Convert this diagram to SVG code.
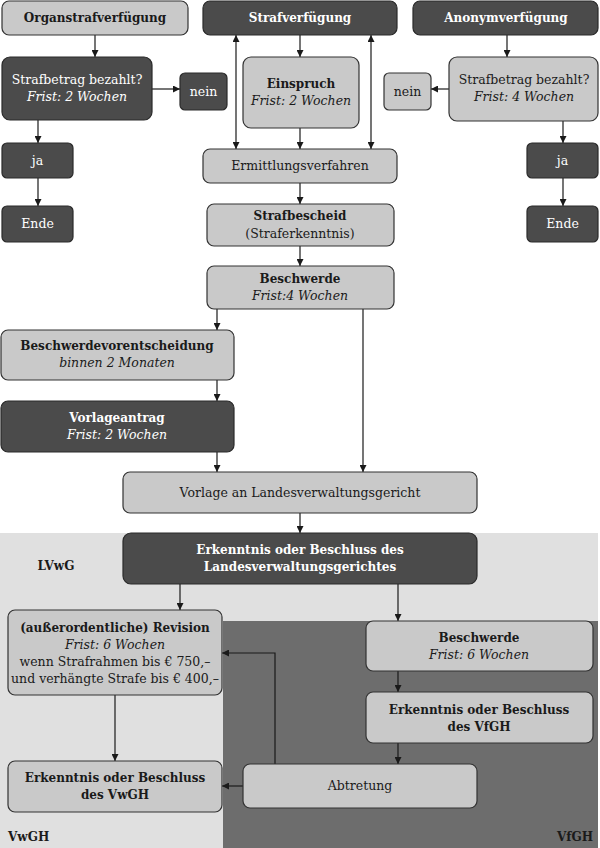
<svg xmlns="http://www.w3.org/2000/svg" width="600" height="848" viewBox="0 0 600 848">
<defs>
<marker id="ah" viewBox="0 0 10 10" refX="10" refY="5" markerWidth="7" markerHeight="7" markerUnits="userSpaceOnUse" orient="auto-start-reverse"><path d="M0,0 L10,5 L0,10 z" fill="#1a1a1a"/></marker>
<style>
text{font-family:"DejaVu Serif","Liberation Serif",serif;font-size:12.5px;text-anchor:middle}
.b{font-weight:bold;font-size:12px}
.i{font-style:italic}
.lt rect{fill:#c9c9c9;stroke:#333;stroke-width:1.2}
.dk rect{fill:#4b4b4b;stroke:#2a2a2a;stroke-width:1.2}
.lt text{fill:#1a1a1a}
.dk text{fill:#ffffff}
.c line,.c polyline{stroke:#1a1a1a;stroke-width:1.2;fill:none;marker-end:url(#ah)}
.zl{font-weight:bold;fill:#1a1a1a;font-size:12px}
</style>
</defs>
<rect x="0" y="533" width="598" height="315" fill="#e0e0e0"/>
<rect x="223" y="621" width="375" height="227" fill="#6d6d6d"/>
<text class="zl" x="56" y="570">LVwG</text>
<text class="zl" x="8" y="841" style="text-anchor:start">VwGH</text>
<text class="zl" x="593" y="841" style="text-anchor:end">VfGH</text>

<g class="c">
<line x1="95" y1="35" x2="95" y2="57"/>
<line x1="152" y1="89" x2="180" y2="89"/>
<line x1="38" y1="120" x2="38" y2="143"/>
<line x1="38" y1="178" x2="38" y2="206"/>
<line x1="236" y1="35" x2="236" y2="149" style="marker-start:url(#ah)"/>
<line x1="371" y1="35" x2="371" y2="149" style="marker-start:url(#ah)"/>
<line x1="300" y1="35" x2="300" y2="57"/>
<line x1="300" y1="128" x2="300" y2="149"/>
<line x1="300" y1="183" x2="300" y2="204"/>
<line x1="300" y1="246" x2="300" y2="266"/>
<line x1="507" y1="35" x2="507" y2="57"/>
<line x1="449" y1="89" x2="431" y2="89"/>
<line x1="563" y1="121" x2="563" y2="143"/>
<line x1="563" y1="178" x2="563" y2="206"/>
<line x1="217" y1="309" x2="217" y2="330"/>
<line x1="217" y1="380" x2="217" y2="401"/>
<line x1="217" y1="452" x2="217" y2="472"/>
<line x1="363" y1="309" x2="363" y2="472"/>
<line x1="300" y1="513" x2="300" y2="533"/>
<line x1="180" y1="584" x2="180" y2="610"/>
<line x1="398" y1="584" x2="398" y2="621"/>
<line x1="398" y1="671" x2="398" y2="692"/>
<line x1="398" y1="743" x2="398" y2="764"/>
<line x1="115" y1="695" x2="115" y2="761"/>
<line x1="243" y1="786" x2="222" y2="786"/>
<polyline points="275,765 275,653 222,653"/>
</g>

<g id="organstrafverfuegung" class="lt"><rect x="2" y="1" width="186" height="34" rx="7"/><text class="b" x="95" y="22">Organstrafverfügung</text></g>
<g id="strafverfuegung" class="dk"><rect x="203" y="1" width="194" height="34" rx="7"/><text class="b" x="300" y="22">Strafverfügung</text></g>
<g id="anonymverfuegung" class="dk"><rect x="413" y="1" width="185" height="34" rx="7"/><text class="b" x="506" y="22">Anonymverfügung</text></g>

<g id="bezahlt-links" class="dk"><rect x="2" y="57" width="150" height="63" rx="8"/><text x="77" y="84">Strafbetrag bezahlt?</text><text class="i" x="77" y="101">Frist: 2 Wochen</text></g>
<g id="nein-links" class="dk"><rect x="180" y="73" width="47" height="37" rx="5"/><text x="203.500" y="96">nein</text></g>
<g id="ja-links" class="dk"><rect x="2" y="143" width="71" height="35" rx="5"/><text x="37.500" y="165">ja</text></g>
<g id="ende-links" class="dk"><rect x="2" y="206" width="71" height="36" rx="5"/><text x="37.500" y="228">Ende</text></g>

<g id="einspruch" class="lt"><rect x="243" y="57" width="116" height="71" rx="8"/><text class="b" x="301" y="88">Einspruch</text><text class="i" x="301" y="105">Frist: 2 Wochen</text></g>
<g id="ermittlungsverfahren" class="lt"><rect x="203" y="149" width="194" height="34" rx="7"/><text x="300" y="170">Ermittlungsverfahren</text></g>
<g id="strafbescheid" class="lt"><rect x="207" y="204" width="187" height="42" rx="7"/><text class="b" x="300" y="220">Strafbescheid</text><text x="300" y="238">(Straferkenntnis)</text></g>

<g id="nein-rechts" class="lt"><rect x="384" y="73" width="47" height="37" rx="5"/><text x="407.500" y="96">nein</text></g>
<g id="bezahlt-rechts" class="lt"><rect x="449" y="57" width="149" height="64" rx="8"/><text x="524" y="84">Strafbetrag bezahlt?</text><text class="i" x="524" y="101">Frist: 4 Wochen</text></g>
<g id="ja-rechts" class="dk"><rect x="527" y="143" width="71" height="35" rx="5"/><text x="562.500" y="165">ja</text></g>
<g id="ende-rechts" class="dk"><rect x="527" y="206" width="71" height="36" rx="5"/><text x="562.500" y="228">Ende</text></g>

<g id="beschwerde" class="lt"><rect x="207" y="266" width="187" height="43" rx="7"/><text class="b" x="300" y="283">Beschwerde</text><text class="i" x="300" y="300">Frist:4 Wochen</text></g>
<g id="beschwerdevorentscheidung" class="lt"><rect x="1" y="330" width="233" height="50" rx="7"/><text class="b" x="117" y="350">Beschwerdevorentscheidung</text><text class="i" x="117" y="367">binnen 2 Monaten</text></g>
<g id="vorlageantrag" class="dk"><rect x="1" y="401" width="233" height="51" rx="7"/><text class="b" x="117" y="422">Vorlageantrag</text><text class="i" x="117" y="439">Frist: 2 Wochen</text></g>
<g id="vorlage" class="lt"><rect x="123" y="472" width="354" height="41" rx="7"/><text x="300" y="497">Vorlage an Landesverwaltungsgericht</text></g>
<g id="erkenntnis-lvwg" class="dk"><rect x="123" y="533" width="354" height="51" rx="8"/><text class="b" x="300" y="554">Erkenntnis oder Beschluss des</text><text class="b" x="300" y="571">Landesverwaltungsgerichtes</text></g>

<g id="revision" class="lt"><rect x="8" y="610" width="214" height="85" rx="7"/><text class="b" x="115" y="632">(außerordentliche) Revision</text><text class="i" x="115" y="649">Frist: 6 Wochen</text><text x="115" y="666">wenn Strafrahmen bis € 750,–</text><text x="115" y="683">und verhängte Strafe bis € 400,–</text></g>
<g id="erkenntnis-vwgh" class="lt"><rect x="8" y="761" width="214" height="51" rx="7"/><text class="b" x="115" y="782">Erkenntnis oder Beschluss</text><text class="b" x="115" y="799">des VwGH</text></g>
<g id="beschwerde-vfgh" class="lt"><rect x="366" y="621" width="227" height="50" rx="7"/><text class="b" x="479" y="642">Beschwerde</text><text class="i" x="479" y="659">Frist: 6 Wochen</text></g>
<g id="erkenntnis-vfgh" class="lt"><rect x="366" y="692" width="227" height="51" rx="7"/><text class="b" x="479" y="714">Erkenntnis oder Beschluss</text><text class="b" x="479" y="731">des VfGH</text></g>
<g id="abtretung" class="lt"><rect x="243" y="764" width="234" height="44" rx="7"/><text x="360" y="790">Abtretung</text></g>
</svg>
